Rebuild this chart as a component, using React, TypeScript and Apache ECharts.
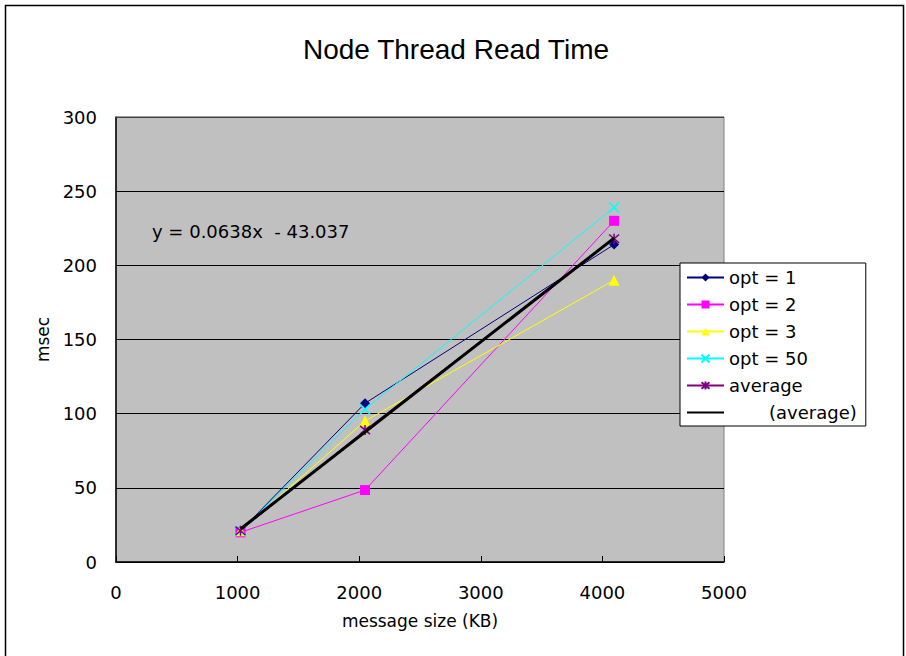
import React, { useEffect, useRef } from "react";
import * as echarts from "echarts";

const messageSizes = [1024, 2048, 4096];
const opt1 = [21, 107, 214];
const opt2 = [20, 48.5, 230];
const opt3 = [21, 95, 190];
const opt50 = [21, 103, 239];
const average = [21, 89, 218];
const trendX = [1024, 4096];
const trendY = [22.3, 218.3];
const xTicks = [0, 1000, 2000, 3000, 4000, 5000];
const yTicks = [0, 50, 100, 150, 200, 250, 300];
const equation = "y = 0.0638x  - 43.037";

const TFONT = "'Liberation Sans', Arial, sans-serif";
const FONT = "'DejaVu Sans', Verdana, sans-serif";

const xPath = "path://M0,0L10,10M10,0L0,10";
const starPath = "path://M0,0L10,10M10,0L0,10M5,-1L5,11";

function pairs(xs: number[], ys: number[]) {
  return xs.map((x, i) => [x, ys[i]]);
}

export default function App() {
  const ref = useRef<HTMLDivElement>(null);
  useEffect(() => {
    if (!ref.current) return;
    const chart = echarts.init(ref.current, undefined, { renderer: "svg" });
    const G = { left: 116, top: 117, width: 608, height: 445 };
    const mkSeries = (name: string, ys: number[], color: string, symbol: string, size: number, stroke?: boolean) => ({
      name,
      type: "line",
      data: pairs(messageSizes, ys),
      symbol,
      symbolSize: size,
      lineStyle: { color, width: 1 },
      itemStyle: stroke
        ? { color: "rgba(0,0,0,0)", borderColor: color, borderWidth: 1.5 }
        : { color, borderColor: color, borderWidth: 0 },
      z: 3,
    });
    chart.setOption({
      animation: false,
      backgroundColor: "#ffffff",
      title: {
        text: "Node Thread Read Time",
        left: 451,
        textAlign: "center",
        top: 30,
        textStyle: { fontFamily: TFONT, fontSize: 28, fontWeight: "normal", color: "#000" },
      },
      grid: { ...G, backgroundColor: "#C0C0C0", show: true, borderColor: "#808080", borderWidth: 1 },
      xAxis: {
        type: "value",
        min: 0,
        max: 5000,
        interval: 1000,
        name: "message size (KB)",
        nameLocation: "middle",
        nameGap: 50,
        nameTextStyle: { fontFamily: FONT, fontSize: 17, color: "#000" },
        axisLine: { show: true, onZero: false, lineStyle: { color: "#000", width: 1.5 } },
        axisTick: { show: true, inside: true, length: 6, lineStyle: { color: "#000" } },
        axisLabel: {
          margin: 21,
          fontFamily: FONT,
          fontSize: 18,
          color: "#000",
          formatter: (v: number) => String(xTicks.find((t) => t === v) ?? v),
        },
        splitLine: { show: false },
      },
      yAxis: {
        type: "value",
        min: 0,
        max: 300,
        interval: 50,
        name: "msec",
        nameLocation: "middle",
        nameRotate: 90,
        nameGap: 65,
        nameTextStyle: { fontFamily: FONT, fontSize: 17, color: "#000" },
        axisLine: { show: true, lineStyle: { color: "#000", width: 1.5 } },
        axisTick: { show: true, inside: true, length: 6, lineStyle: { color: "#000" } },
        axisLabel: {
          margin: 19,
          fontFamily: FONT,
          fontSize: 18,
          color: "#000",
          formatter: (v: number) => String(yTicks.find((t) => t === v) ?? v),
        },
        splitLine: { show: true, lineStyle: { color: "#000", width: 1 } },
      },
      legend: {
        orient: "vertical",
        left: 680,
        top: 263,
        padding: [5, 9, 4, 6],
        itemGap: 8,
        itemWidth: 37,
        itemHeight: 10,
        borderColor: "#000",
        borderWidth: 1,
        backgroundColor: "#fff",
        textStyle: { fontFamily: FONT, fontSize: 18, color: "#000", lineHeight: 19 },
        data: ["opt = 1", "opt = 2", "opt = 3", "opt = 50", "average", "       (average)"],
      },
      series: [
        mkSeries("opt = 1", opt1, "#000080", "diamond", 10),
        mkSeries("opt = 2", opt2, "#FF00FF", "rect", 10),
        mkSeries("opt = 3", opt3, "#FFFF00", "triangle", 11),
        mkSeries("opt = 50", opt50, "#00FFFF", xPath, 10, true),
        mkSeries("average", average, "#800080", starPath, 10, true),
        {
          name: "       (average)",
          type: "line",
          data: pairs(trendX, trendY),
          symbol: "circle",
          showSymbol: false,
          lineStyle: { color: "#000", width: 3 },
          itemStyle: { color: "rgba(0,0,0,0)", borderWidth: 0 },
          z: 4,
        },
      ],
      graphic: [
        {
          type: "rect",
          shape: { x: 0, y: 0, width: 898, height: 660 },
          x: 5.5,
          y: 5.5,
          style: { fill: "none", stroke: "#000", lineWidth: 1.5 },
          z: 100,
        },
        {
          type: "line",
          shape: { x1: G.left, y1: G.top, x2: G.left + G.width, y2: G.top },
          style: { stroke: "#808080", lineWidth: 1 },
          z: 100,
        },
        {
          type: "text",
          x: 152,
          y: 231,
          style: {
            text: equation,
            fontFamily: FONT,
            fontSize: 18,
            fill: "#000",
            verticalAlign: "middle",
          },
          z: 100,
        },
      ],
    });
    return () => chart.dispose();
  }, []);
  return (
    <div
      ref={ref}
      style={{ position: "fixed", left: 0, top: 0, width: 906, height: 656 }}
    />
  );
}
